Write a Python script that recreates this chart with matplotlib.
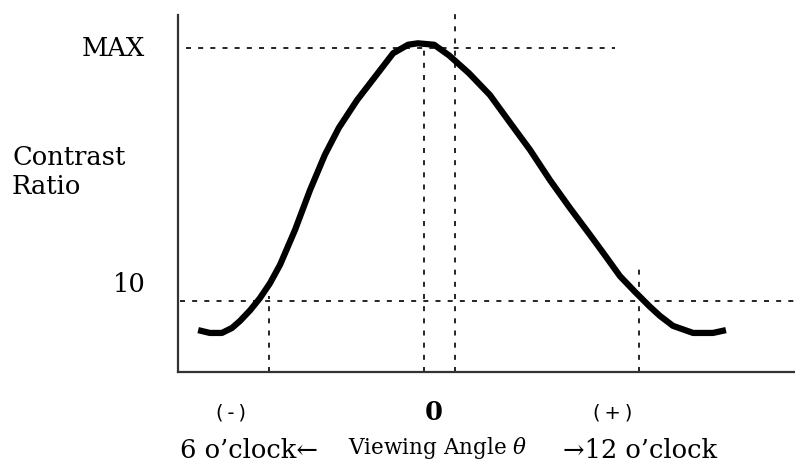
import matplotlib
matplotlib.use("Agg")
import matplotlib.pyplot as plt
from matplotlib.transforms import Bbox

# viewing angle (deg) vs. contrast ratio (relative units, 10 line = 10)
angle = [-73.8, -70.2, -66.5, -63.4, -60.9, -57.8, -54.8, -51.7, -48.6, -44.0,
         -39.4, -34.8, -30.5, -24.9, -18.5, -13.8, -9.2, -6.2, -1.2, 3.4,
         9.5, 16.0, 22.2, 28.3, 34.5, 40.6, 46.8, 50.8, 56.0, 60.6,
         65.2, 68.3, 72.3, 78.5, 84.6, 88.6]
contrast = [5.9, 5.5, 5.5, 6.2, 7.2, 8.7, 10.4, 12.5, 15.1, 20.0,
            25.6, 30.6, 34.4, 38.3, 42.1, 44.9, 46.1, 46.3, 46.1, 44.6,
            42.1, 39.0, 35.1, 31.3, 27.0, 23.1, 19.3, 16.8, 13.5, 11.3,
            9.2, 7.9, 6.5, 5.5, 5.5, 5.9]

max_level = 45.6
cr10_level = 10.0
peak_angle = -4.3
normal_angle = 5.2
cr10_angles = [-52.0, 61.8]

W, H = 795, 466
fig = plt.figure(figsize=(W / 100, H / 100), dpi=100)
ax = fig.add_axes([178 / W, 94 / H, 617 / W, 372 / H])
ax.set_xlim(-80, 109.85)
ax.set_ylim(0, 52.4)

for s in ["top", "right"]:
    ax.spines[s].set_visible(False)
ax.spines["left"].set_bounds(0, 50.3)
for s in ["left", "bottom"]:
    ax.spines[s].set_linewidth(1.6)
    ax.spines[s].set_color("#333333")
ax.set_xticks([])
ax.set_yticks([])

dash = dict(color="black", lw=1.2, linestyle=(0, (3, 4.3)))
ax.plot([-77.5, 54.5], [max_level, max_level], **dash)
ax.plot([normal_angle, normal_angle], [0, 51.4], **dash)
ax.plot([peak_angle, peak_angle], [0, max_level], **dash)
ax.plot([-79.4, 109.85], [cr10_level, cr10_level], **dash)
ax.plot([cr10_angles[0]] * 2, [0, 10.7], **dash)
ax.plot([cr10_angles[1]] * 2, [0, 14.6], **dash)

ax.plot(angle, contrast, color="black", lw=4.5, solid_capstyle="butt",
        solid_joinstyle="round")

serif = ["DejaVu Serif", "DejaVu Sans"]
plt.rcParams["mathtext.fontset"] = "dejavuserif"


def ftxt(x, y, s, **kw):
    return fig.text(x / W, 1 - y / H, s, **kw)


t = ftxt(82, 48, "MAX", family=serif, fontsize=18.5, ha="left", va="center")
t.set_clip_box(Bbox([[0, 0], [145, H]]))
t.set_clip_on(True)
ftxt(12, 145, "Contrast\nRatio", family=serif, fontsize=18.5, ha="left",
     va="top", linespacing=1.2)
ftxt(146, 284, "10", family=serif, fontsize=18.5, ha="right", va="center")

ftxt(231, 413, "(\u2009-\u2009)", family="DejaVu Sans", fontsize=14,
     ha="center", va="center")
ftxt(434, 413, "0", family=serif, fontsize=18.5, fontweight="bold",
     ha="center", va="center")
ftxt(613, 413, "(\u2009+\u2009)", family="DejaVu Sans", fontsize=14,
     ha="center", va="center")

ftxt(180, 451, "6 o\u2019clock\u2190", family=serif, fontsize=18.5,
     ha="left", va="center")
ftxt(348, 448, "Viewing Angle $\\theta$", family=serif, fontsize=15.5,
     ha="left", va="center")
ftxt(563, 451, "\u219212 o\u2019clock", family=serif, fontsize=18.5,
     ha="left", va="center")

fig.savefig("out.png", dpi=100)
